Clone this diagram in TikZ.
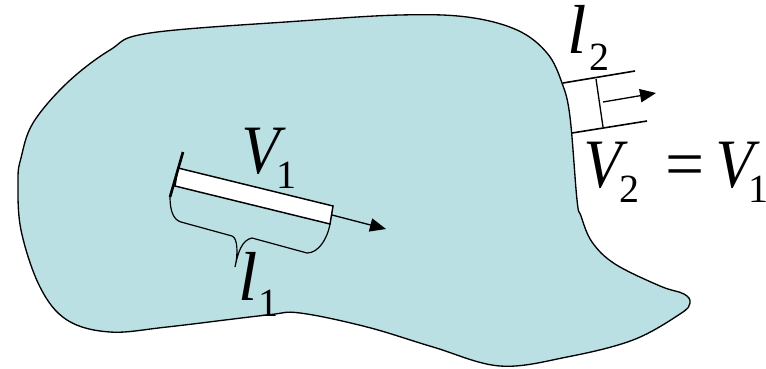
\documentclass[tikz,border=0pt]{standalone}
\usepackage{fontspec}
\setmainfont{Liberation Serif}
\newfontfamily\vfont{Liberation Serif}[FakeSlant=0.16,FakeStretch=0.84]
\usetikzlibrary{arrows.meta}
\definecolor{fluidblue}{HTML}{BBE0E3}
\tikzset{
  outline/.style={draw=black,line width=1pt},
  tubebox/.style={draw=black,fill=white,line width=1.1pt},
  flow/.style={-{Triangle[length=12pt,width=10pt]},line width=1pt},
  brace/.style={draw=black,line width=.9pt},
  vletter/.style={inner sep=0pt,anchor=base west,font=\vfont\fontsize{52}{52}\selectfont},
  lletter/.style={inner sep=0pt,anchor=base west,font=\normalfont\fontsize{52}{52}\selectfont\itshape},
  subtext/.style={inner sep=0pt,anchor=base west,font=\fontsize{30}{30}\selectfont},
}

\begin{document}
\begin{tikzpicture}[x=0.75pt,y=-0.75pt]
	\useasboundingbox (0,0) rectangle (766,368);
	% fluid region
	\draw[outline,fill=fluidblue] plot[smooth cycle,tension=0.6] coordinates {
		(110,50) (150,33) (300,21) (400,15) (467,17) (517,30) (547,53) (562,83)
		(570,117) (577,200) (581,216) (592,242) (615,264) (660,286) (684,294)
		(690,303) (680,314) (633,340) (567,357) (500,366) (433,347) (367,327)
		(300,313) (267,315) (167,327) (110,332) (67,320) (40,287) (21,230)
		(18,180) (21,158) (33,123) (67,83)};
	% fluid element 1
	\coordinate (t1) at (178,168);
	\coordinate (t2) at (333,206);
	\coordinate (t3) at (330,224);
	\coordinate (t4) at (175,186);
	\draw[tubebox] (t1)--(t2)--(t3)--(t4)--cycle;
	\coordinate (capA) at (183,152);
	\coordinate (capB) at (170,197);
	\draw[line width=2pt] (capA)--(capB);
	\coordinate (tubeend) at (332,215);
	\coordinate (tubetip) at (386,229);
	\draw[flow] (tubeend)--(tubetip);
	\draw[brace] (capB) .. controls (170,212) and (174,220) .. (181,222) -- (232,236)
		.. controls (238,238) and (238,255) .. (235,267)
		.. controls (238,252) and (242,240) .. (252,238) -- (307,253)
		.. controls (318,253) and (327,240) .. (t3);
	% fluid element 2
	\coordinate (e1) at (563,83);
	\coordinate (e2) at (596,79);
	\coordinate (e3) at (603,127);
	\coordinate (e4) at (572,133);
	\coordinate (topend) at (635,71);
	\coordinate (botend) at (647,121);
	\coordinate (outstart) at (603,102);
	\coordinate (outtip) at (656,93);
	\draw[outline,line width=1.2pt] (e1)--(topend);
	\draw[outline,line width=1.2pt] (e4)--(botend);
	\draw[outline] (e2)--(e3);
	\draw[flow] (outstart)--(outtip);
	% labels
	\node[vletter] (vone) at (237,173) {V};
	\node[subtext] (vonesub) at (276,188) {1};
	\node[lletter] (lone) at (238,300) {l};
	\node[subtext] (lonesub) at (258,316) {1};
	\node[lletter] (ltwo) at (567,53) {l};
	\node[subtext] (ltwosub) at (589,70) {2};
	\node[vletter] (vtwo) at (579,187) {V};
	\node[subtext] (vtwosub) at (619,202) {2};
	\node[inner sep=0pt,anchor=base west,font=\fontsize{52}{52}\selectfont] (equal) at (665,187) {=};
	\node[vletter] (vthree) at (711,187) {V};
	\node[subtext] (vthreesub) at (748,202) {1};
\end{tikzpicture}
\end{document}
